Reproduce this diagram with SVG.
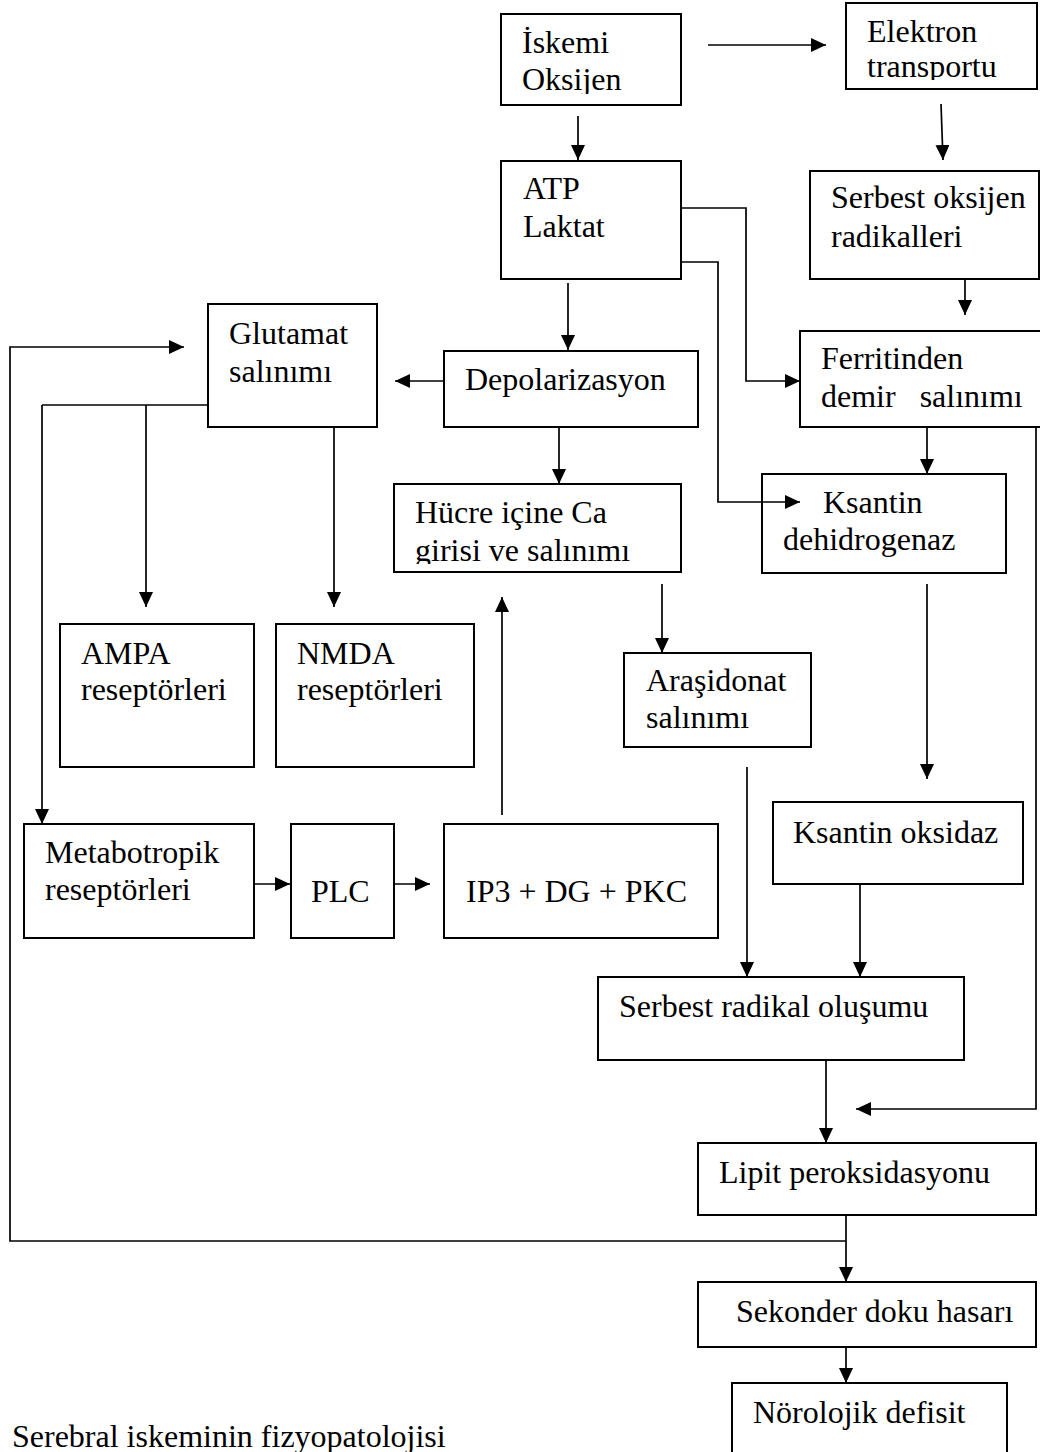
<svg xmlns="http://www.w3.org/2000/svg" width="1040" height="1452" viewBox="0 0 1040 1452">
<style>
.box{fill:none;stroke:#000;stroke-width:2}
.t{font-family:"Liberation Serif","Times New Roman",serif;font-size:32px;fill:#000}
.c{fill:none;stroke:#000;stroke-width:1.7}
.a{marker-end:url(#ah)}
</style>
<defs>
<marker id="ah" markerUnits="userSpaceOnUse" markerWidth="15" markerHeight="14" refX="15" refY="7" orient="auto">
<path d="M0,0 L15,7 L0,14 Z" fill="#000"/>
</marker>
<clipPath id="clipIsk"><rect x="501" y="14" width="180" height="80"/></clipPath>
<clipPath id="clipElk"><rect x="846" y="3" width="191" height="77"/></clipPath>
<clipPath id="clipHuc"><rect x="394" y="484" width="287" height="80"/></clipPath>
</defs>
<rect width="1040" height="1452" fill="#fff"/>

<g id="connectors">
<line class="c a" x1="708" y1="45" x2="826" y2="45"/>
<line class="c a" x1="578" y1="116" x2="578" y2="160"/>
<line class="c a" x1="941" y1="104" x2="943" y2="160"/>
<line class="c a" x1="965" y1="279" x2="965" y2="315"/>
<line class="c a" x1="568" y1="283" x2="568" y2="350"/>
<polyline class="c a" points="681,208 746,208 746,381 800,381"/>
<polyline class="c a" points="681,262 718,262 718,502 800,502"/>
<line class="c a" x1="444" y1="381" x2="395" y2="381"/>
<polyline class="c a" points="846,1215 846,1241 846,1282"/>
<polyline class="c a" points="846,1241 10,1241 10,347 184,347"/>
<polyline class="c" points="208,405 42,405"/>
<line class="c a" x1="42" y1="405" x2="42" y2="824"/>
<line class="c a" x1="146" y1="405" x2="146" y2="607"/>
<line class="c a" x1="334" y1="427" x2="334" y2="607"/>
<line class="c a" x1="559" y1="427" x2="559" y2="484"/>
<line class="c a" x1="502" y1="815" x2="502" y2="597"/>
<line class="c a" x1="255" y1="884" x2="290" y2="884"/>
<line class="c a" x1="395" y1="884" x2="430" y2="884"/>
<line class="c a" x1="662" y1="584" x2="662" y2="653"/>
<line class="c a" x1="747" y1="767" x2="747" y2="977"/>
<line class="c a" x1="927" y1="427" x2="927" y2="474"/>
<polyline class="c a" points="1036,427 1036,1109 856,1109"/>
<line class="c a" x1="927" y1="584" x2="927" y2="779"/>
<line class="c a" x1="860" y1="884" x2="860" y2="977"/>
<line class="c a" x1="826" y1="1060" x2="826" y2="1143"/>
<line class="c a" x1="846" y1="1347" x2="846" y2="1383"/>
</g>

<g id="iskemi">
<rect class="box" x="501" y="14" width="180" height="91"/>
<g clip-path="url(#clipIsk)">
<text class="t" x="522" y="53">İskemi</text>
<text class="t" x="522" y="90">Oksijen</text>
</g>
</g>

<g id="elektron">
<rect class="box" x="846" y="3" width="191" height="86"/>
<g clip-path="url(#clipElk)">
<text class="t" x="867" y="42">Elektron</text>
<text class="t" x="867" y="77">transportu</text>
</g>
</g>

<g id="atp">
<rect class="box" x="501" y="161" width="180" height="118"/>
<text class="t" x="523" y="199">ATP</text>
<text class="t" x="523" y="237">Laktat</text>
</g>

<g id="serbest-oksijen">
<rect class="box" x="810" y="171" width="229" height="108"/>
<text class="t" x="831" y="208">Serbest oksijen</text>
<text class="t" x="831" y="247">radikalleri</text>
</g>

<g id="glutamat">
<rect class="box" x="208" y="304" width="169" height="123"/>
<text class="t" x="229" y="344">Glutamat</text>
<text class="t" x="229" y="382">salınımı</text>
</g>

<g id="depolarizasyon">
<rect class="box" x="444" y="351" width="254" height="76"/>
<text class="t" x="465" y="390">Depolarizasyon</text>
</g>

<g id="ferritin">
<rect class="box" x="800" y="331" width="245" height="96"/>
<text class="t" x="821" y="369">Ferritinden</text>
<text class="t" x="821" y="407" xml:space="preserve">demir   salınımı</text>
</g>

<g id="hucre">
<rect class="box" x="394" y="484" width="287" height="88"/>
<g clip-path="url(#clipHuc)">
<text class="t" x="415" y="523">Hücre içine Ca</text>
<text class="t" x="415" y="561">girisi ve salınımı</text>
</g>
</g>

<g id="ksantin-dh">
<rect class="box" x="762" y="474" width="244" height="99"/>
<text class="t" x="823" y="513">Ksantin</text>
<text class="t" x="783" y="550">dehidrogenaz</text>
</g>

<g id="ampa">
<rect class="box" x="60" y="624" width="194" height="143"/>
<text class="t" x="81" y="664">AMPA</text>
<text class="t" x="81" y="700">reseptörleri</text>
</g>

<g id="nmda">
<rect class="box" x="276" y="624" width="198" height="143"/>
<text class="t" x="297" y="664">NMDA</text>
<text class="t" x="297" y="700">reseptörleri</text>
</g>

<g id="arasidonat">
<rect class="box" x="624" y="653" width="187" height="94"/>
<text class="t" x="646" y="691">Araşidonat</text>
<text class="t" x="646" y="728">salınımı</text>
</g>

<g id="metabotropik">
<rect class="box" x="24" y="824" width="230" height="114"/>
<text class="t" x="45" y="863">Metabotropik</text>
<text class="t" x="45" y="900">reseptörleri</text>
</g>

<g id="plc">
<rect class="box" x="291" y="824" width="103" height="114"/>
<text class="t" x="311" y="902">PLC</text>
</g>

<g id="ip3">
<rect class="box" x="444" y="824" width="274" height="114"/>
<text class="t" x="466" y="902">IP3 + DG + PKC</text>
</g>

<g id="ksantin-oksidaz">
<rect class="box" x="773" y="802" width="250" height="82"/>
<text class="t" x="793" y="843">Ksantin oksidaz</text>
</g>

<g id="serbest-radikal">
<rect class="box" x="598" y="977" width="366" height="83"/>
<text class="t" x="619" y="1017">Serbest radikal oluşumu</text>
</g>

<g id="lipit">
<rect class="box" x="698" y="1143" width="338" height="72"/>
<text class="t" x="719" y="1183">Lipit peroksidasyonu</text>
</g>

<g id="sekonder">
<rect class="box" x="698" y="1282" width="338" height="65"/>
<text class="t" x="736" y="1322">Sekonder doku hasarı</text>
</g>

<g id="norolojik">
<rect class="box" x="732" y="1383" width="275" height="90"/>
<text class="t" x="753" y="1423">Nörolojik defisit</text>
</g>

<text class="t" x="12" y="1447">Serebral iskeminin fizyopatolojisi</text>
</svg>
